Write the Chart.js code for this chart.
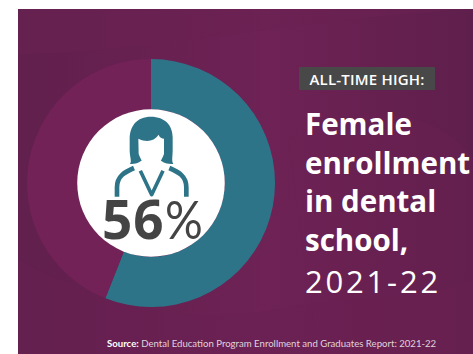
<!DOCTYPE html>
<html>
<head>
<meta charset="utf-8">
<script src="https://cdn.jsdelivr.net/npm/chart.js@4"></script>
<style>
  html, body { margin: 0; padding: 0; background: #fff; }
  #page { position: relative; width: 473px; height: 354px; overflow: hidden; }
  #panel { position: absolute; left: 18px; top: 9px; width: 455px; height: 345px; }
  #chart { position: absolute; left: 27px; top: 59px; }
  #icon { position: absolute; left: 80px; top: 100px; }
  .txt { position: absolute; white-space: nowrap; }
  #pct { left: 102px; top: 187px; color: #444; font: 700 53px/64px "Open Sans", sans-serif; letter-spacing: 1px; }
  #pct span { display: inline-block; font: 400 53px/64px Lato, sans-serif; letter-spacing: 0;
              transform: scaleX(0.89); transform-origin: left center; }
  #badge { left: 299px; top: 67px; width: 136px; height: 23px; background: #484848; color: #fff;
           font: 600 15px/24px "Open Sans", sans-serif; letter-spacing: 0.2px; text-align: center; }
  #head { left: 305px; top: 105px; color: #fff; font: 700 29.5px/38.5px "Open Sans", sans-serif; }
  #head div:last-child { font-size: 31px; font-weight: 400; letter-spacing: 2.8px; margin-top: 3px; }
  #source { left: 107px; top: 338px; color: #e0d2dc; font: 400 9.6px/12px Lato, sans-serif; }
  #source b { color: #fff; }
</style>
</head>
<body>
<div id="page">
  <svg id="panel" viewBox="0 0 455 345">
    <defs>
      <linearGradient id="bg" x1="0" y1="0" x2="1" y2="0">
        <stop offset="0" stop-color="#61204d"/>
        <stop offset="0.55" stop-color="#6e2255"/>
        <stop offset="1" stop-color="#5f1f4c"/>
      </linearGradient>
    </defs>
    <rect width="455" height="345" fill="url(#bg)"/>
    <!-- soft bands behind the ring -->
    <path d="M0 45 C120 45 280 10 455 0 L200 0 L0 0 Z" fill="#6a2152" opacity="0.5"/>
    <path d="M0 250 C70 290 160 320 260 300 C340 285 420 290 455 270 L455 345 L0 345 Z" fill="#6a2152" opacity="0.4"/>
    <path d="M270 130 C340 90 420 100 455 150 L455 345 L300 345 Z" fill="#6c2254" opacity="0.35"/>
  </svg>
  <canvas id="chart" width="248" height="248"></canvas>
  <svg id="icon" width="140" height="160" viewBox="0 0 420 480">
    <!-- shoulders and collar -->
    <g fill="none" stroke="#2e7488" stroke-linejoin="round">
      <path d="M111 290 L111 262 C111 228 135 216 162 204" stroke-width="14"/>
      <path d="M319 290 L319 262 C319 228 295 216 268 204" stroke-width="14"/>
      <path d="M181 212 L215 284 L249 212" stroke-width="11"/>
    </g>
    <!-- hair -->
    <path d="M213 50 C170 50 149 78 149 118 L149 150 C149 172 156 182 150 192 C166 192 180 188 190 176 L238 176 C246 188 262 192 280 192 C274 182 278 170 278 150 L278 112 C278 76 255 50 213 50 Z" fill="#2e7488"/>
    <!-- face -->
    <path d="M175 116 C200 128 222 124 236 104 C238 112 246 116 252 116 L252 162 C244 186 228 202 214 202 C200 202 184 186 176 162 Z" fill="#fff"/>
  </svg>
  <div id="pct" class="txt"></div>
  <div id="badge" class="txt"></div>
  <div id="head" class="txt"></div>
  <div id="source" class="txt"></div>
</div>
<script>
const categories = ['Female', 'Male'];
const shares = [56, 44];
const sliceColors = ['#2e7488', '#732258'];

const badgeText = 'ALL-TIME HIGH:';
const headLines = ['Female', 'enrollment', 'in dental', 'school,', '2021-22'];
const sourceLabel = 'Source:';
const sourceText = ' Dental Education Program Enrollment and Graduates Report: 2021-22';

// white disc filling the doughnut hole
const holeFill = {
    id: 'holeFill',
    afterDatasetsDraw(chart) {
        const arc = chart.getDatasetMeta(0).data[0];
        const ctx = chart.ctx;
        ctx.save();
        ctx.fillStyle = '#fff';
        ctx.beginPath();
        ctx.arc(arc.x, arc.y, arc.innerRadius, 0, Math.PI * 2);
        ctx.fill();
        ctx.restore();
    }
};

new Chart(document.getElementById('chart'), {
    type: 'doughnut',
    data: {
        labels: categories,
        datasets: [{ data: shares, backgroundColor: sliceColors, borderWidth: 0 }]
    },
    options: {
        responsive: false,
        animation: false,
        cutout: '59.5%',
        plugins: { legend: { display: false }, tooltip: { enabled: false } }
    },
    plugins: [holeFill]
});

document.getElementById('pct').innerHTML = shares[0] + '<span>%</span>';
document.getElementById('badge').textContent = badgeText;
document.getElementById('head').innerHTML = headLines.map(l => '<div>' + l + '</div>').join('');
document.getElementById('source').innerHTML = '<b>' + sourceLabel + '</b>' + sourceText;
</script>
</body>
</html>
